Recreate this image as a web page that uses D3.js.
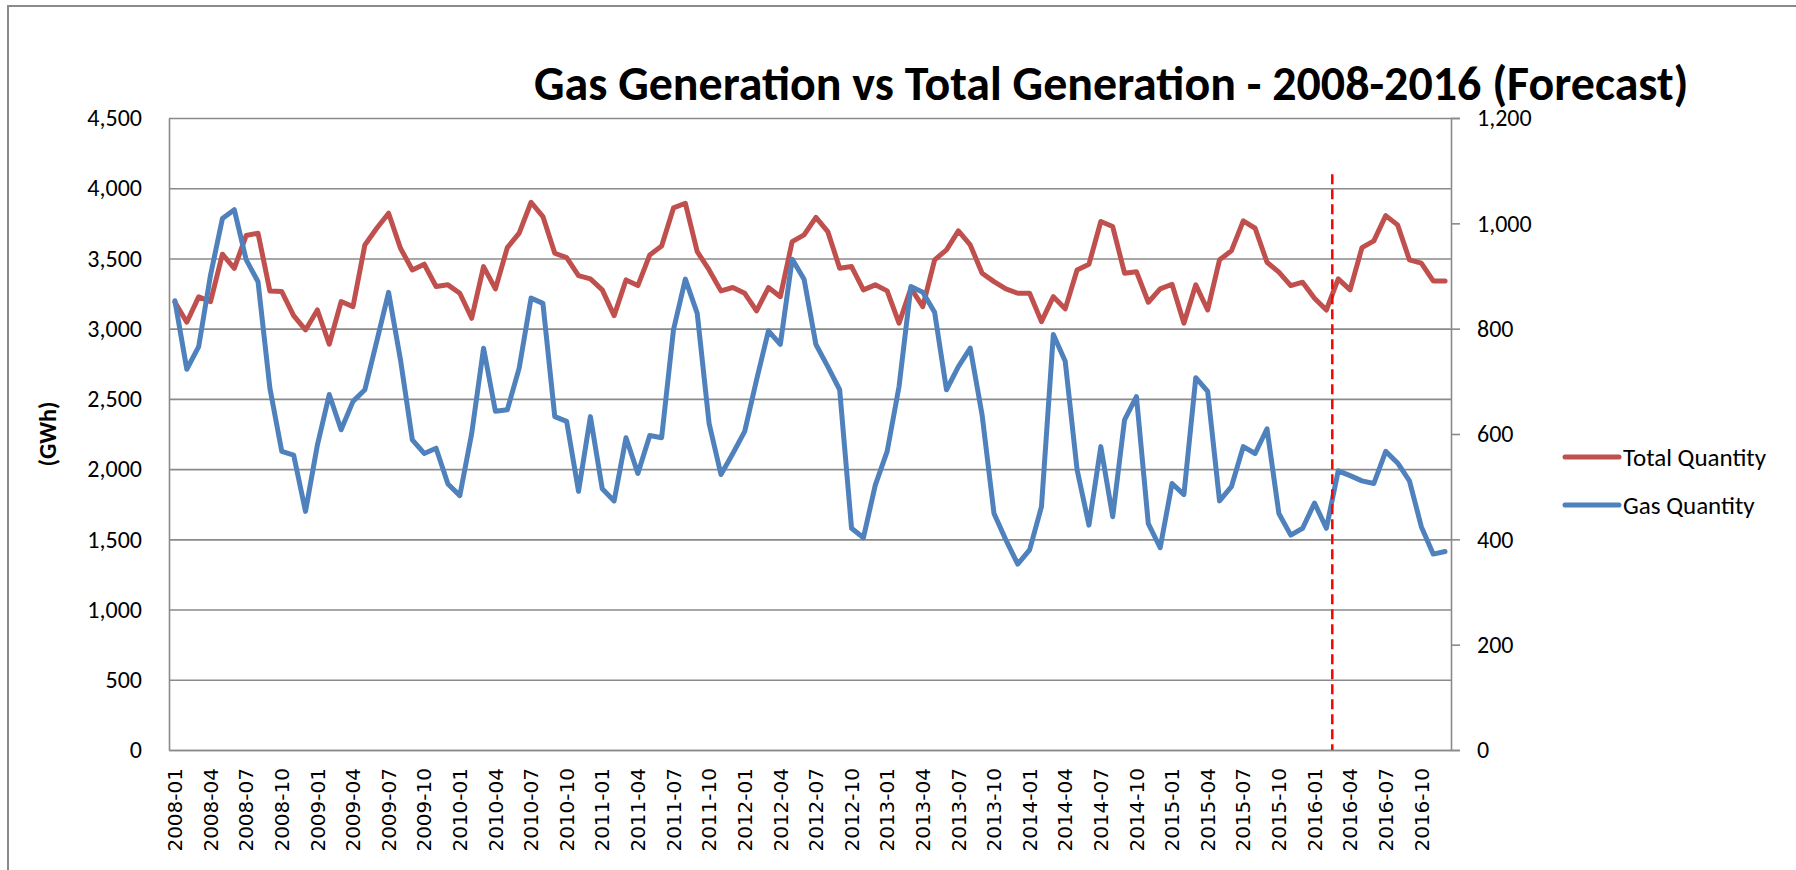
<!DOCTYPE html>
<html>
<head>
<meta charset="utf-8">
<script src="https://cdn.jsdelivr.net/npm/d3@7"></script>
<style>
  html, body { margin: 0; padding: 0; background: #fff; }
  svg { display: block; }
  text { font-family: Calibri, Carlito, Lato, sans-serif; fill: #000; }
</style>
</head>
<body>
<svg id="chart" width="1796" height="870"></svg>
<script>
// categories: one per month, 2008-01 .. 2016-12
const months = d3.range(2008, 2017).flatMap(y =>
  d3.range(1, 13).map(m => `${y}-${String(m).padStart(2, '0')}`));

// Total Quantity (GWh, left axis)
const totalQuantity = [
  3188, 3046, 3226, 3193, 3530, 3430, 3663, 3680, 3269, 3264, 3093, 2991,
  3133, 2889, 3193, 3157, 3596, 3715, 3822, 3573, 3418, 3459, 3300, 3312,
  3252, 3074, 3442, 3283, 3577, 3680, 3900, 3798, 3537, 3506, 3378, 3354,
  3276, 3093, 3347, 3307, 3525, 3589, 3860, 3893, 3549, 3418, 3269, 3293,
  3252, 3126, 3293, 3228, 3620, 3668, 3793, 3691, 3430, 3442, 3276, 3312,
  3269, 3039, 3288, 3157, 3490, 3561, 3696, 3596, 3395, 3335, 3283, 3252,
  3252, 3050, 3228, 3141, 3418, 3459, 3763, 3727, 3395, 3406, 3188, 3283,
  3316, 3039, 3312, 3133, 3490, 3554, 3767, 3715, 3473, 3402, 3307, 3331,
  3217, 3133, 3354, 3276, 3577, 3625, 3805, 3739, 3490, 3466, 3340, 3340
];

// Gas Quantity (right axis)
const gasQuantity = [
  853, 723, 766, 902, 1009, 1026, 931, 889, 687, 567, 560, 453,
  579, 675, 608, 662, 684, 776, 869, 741, 589, 563, 573, 505,
  483, 601, 763, 643, 646, 725, 858, 848, 633, 624, 491, 633,
  496, 473, 593, 525, 597, 593, 798, 894, 829, 620, 523, 563,
  605, 703, 796, 770, 932, 894, 770, 728, 684, 421, 403, 503,
  567, 690, 880, 869, 831, 684, 728, 763, 636, 449, 399, 353,
  380, 462, 789, 738, 532, 427, 576, 443, 627, 671, 430, 384,
  506, 485, 707, 681, 473, 500, 576, 563, 610, 449, 408, 421,
  469, 421, 530, 521, 511, 506, 567, 545, 511, 424, 372, 377
];

const leftTicks = [0, 500, 1000, 1500, 2000, 2500, 3000, 3500, 4000, 4500];
const rightTicks = [0, 200, 400, 600, 800, 1000, 1200];
const xTickLabels = months.filter((d, i) => i % 3 === 0);
const forecastStart = '2016-03';
const forecastTop = 4100;

const series = [
  { name: 'Total Quantity', values: totalQuantity, axis: 'left', color: '#C0504D' },
  { name: 'Gas Quantity', values: gasQuantity, axis: 'right', color: '#4F81BD' }
];

const title = 'Gas Generation vs Total Generation - 2008-2016 (Forecast)';
const yTitle = '(GWh)';

const svg = d3.select('#chart');
const plot = { left: 169, right: 1451, top: 118, bottom: 750 };
const gridColor = '#8a8a8a';

// outer chart frame
svg.append('rect')
  .attr('x', 8).attr('y', 6)
  .attr('width', 1820).attr('height', 900)
  .attr('fill', 'none')
  .attr('stroke', gridColor)
  .attr('stroke-width', 2);

const x = d3.scaleBand().domain(months).range([plot.left, plot.right]).padding(0);
const yLeft = d3.scaleLinear().domain([0, 4500]).range([plot.bottom, plot.top]);
const yRight = d3.scaleLinear().domain([0, 1200]).range([plot.bottom, plot.top]);
const cx = d => x(d) + x.bandwidth() / 2;

// gridlines
svg.append('g')
  .attr('transform', `translate(${plot.left},0)`)
  .call(d3.axisLeft(yLeft).tickValues(leftTicks).tickSize(-(plot.right - plot.left)).tickFormat(''))
  .call(g => g.select('.domain').remove())
  .call(g => g.selectAll('line').attr('stroke', gridColor).attr('stroke-width', 1.6));

// left axis
svg.append('g')
  .attr('transform', `translate(${plot.left},0)`)
  .call(d3.axisLeft(yLeft).tickValues(leftTicks).tickSize(0).tickPadding(27).tickFormat(d3.format(',')))
  .call(g => g.select('.domain').attr('stroke', gridColor).attr('stroke-width', 1.6))
  .call(g => g.selectAll('text').style('font-size', '24px').attr('fill', '#000'));

// right axis
svg.append('g')
  .attr('transform', `translate(${plot.right},0)`)
  .call(d3.axisRight(yRight).tickValues(rightTicks).tickSize(9).tickPadding(17).tickFormat(d3.format(',')))
  .call(g => g.select('.domain').attr('stroke', gridColor).attr('stroke-width', 1.6))
  .call(g => g.selectAll('line').attr('stroke', gridColor).attr('stroke-width', 1.6))
  .call(g => g.selectAll('text').style('font-size', '24px').attr('fill', '#000'));

// bottom axis
svg.append('g')
  .attr('transform', `translate(0,${plot.bottom})`)
  .call(d3.axisBottom(x).tickValues(xTickLabels).tickSize(0))
  .call(g => g.select('.domain').attr('stroke', gridColor).attr('stroke-width', 1.6))
  .call(g => g.selectAll('text')
    .attr('transform', 'rotate(-90)')
    .attr('x', -18).attr('y', 0).attr('dy', '0.36em')
    .attr('text-anchor', 'end')
    .style('font-family', '"DejaVu Sans", Verdana, sans-serif')
    .style('font-size', '20px')
    .attr('fill', '#000'));

// series lines
const line = s => d3.line()
  .x((d, i) => cx(months[i]))
  .y(d => (s.axis === 'left' ? yLeft : yRight)(d));

svg.append('g').selectAll('path')
  .data(series)
  .join('path')
  .attr('d', s => line(s)(s.values))
  .attr('fill', 'none')
  .attr('stroke', s => s.color)
  .attr('stroke-width', 5)
  .attr('stroke-linejoin', 'round')
  .attr('stroke-linecap', 'round');

// forecast divider
svg.append('line')
  .attr('x1', x(forecastStart)).attr('x2', x(forecastStart))
  .attr('y1', yLeft(forecastTop)).attr('y2', plot.bottom)
  .attr('stroke', '#FF0000')
  .attr('stroke-width', 2.5)
  .attr('stroke-dasharray', '10,5');

// title
const titleText = svg.append('text')
  .attr('x', 534).attr('y', 100)
  .style('font-size', '40px')
  .style('font-weight', 'bold')
  .text(title);
const tw = titleText.node().getComputedTextLength();
titleText.style('font-size', `${40 * 1155 / tw}px`);

// y axis title
svg.append('text')
  .attr('transform', `translate(48,${(plot.top + plot.bottom) / 2}) rotate(-90)`)
  .attr('text-anchor', 'middle')
  .attr('dy', '0.35em')
  .style('font-size', '24px')
  .style('font-weight', 'bold')
  .text(yTitle);

// legend
const legend = svg.append('g')
  .selectAll('g')
  .data(series)
  .join('g')
  .attr('transform', (d, i) => `translate(1565,${457 + i * 48})`);
legend.append('line')
  .attr('x1', 0).attr('x2', 54)
  .attr('stroke', d => d.color)
  .attr('stroke-width', 5)
  .attr('stroke-linecap', 'round');
legend.append('text')
  .attr('x', 58)
  .attr('dy', '0.35em')
  .style('font-size', '25px')
  .text(d => d.name);
</script>
</body>
</html>
